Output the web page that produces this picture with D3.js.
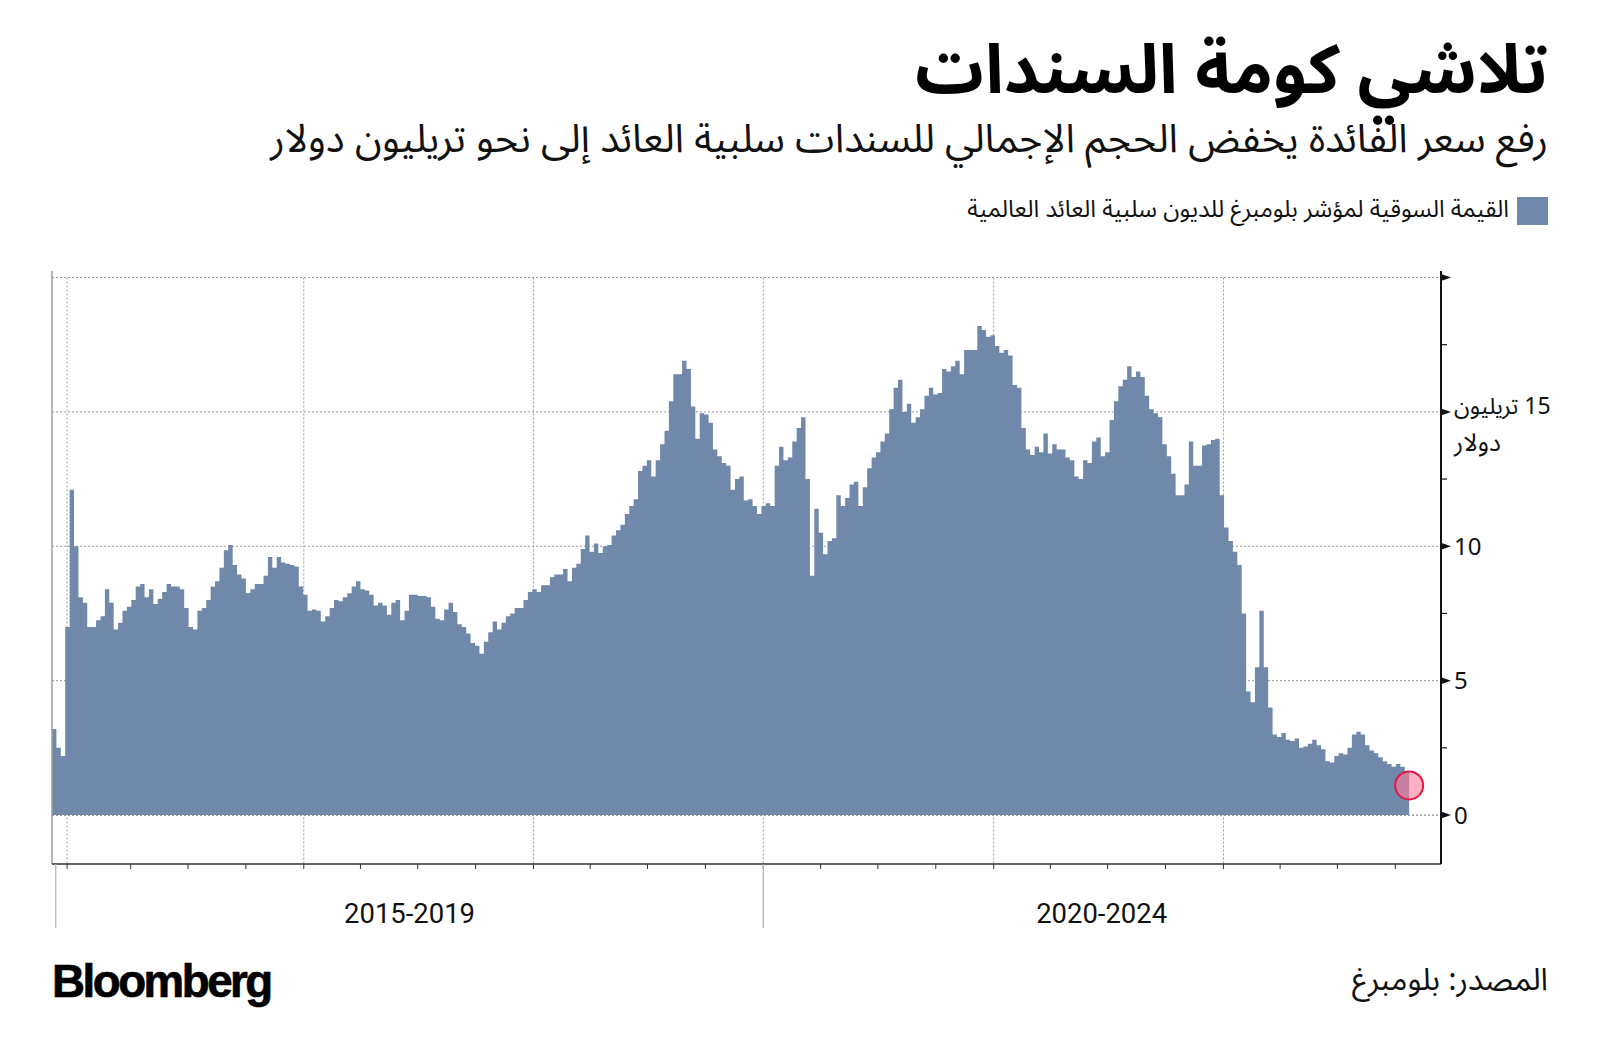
<!DOCTYPE html>
<html><head><meta charset="utf-8">
<script src="https://cdn.jsdelivr.net/npm/d3@7"></script>
<style>body{margin:0;background:#fff} svg{display:block}</style>
</head><body>
<svg id="c" width="1600" height="1063"></svg>
<script>
const titleText = "تلاشي كومة السندات";
const subtitleText = "رفع سعر الفائدة يخفض الحجم الإجمالي للسندات سلبية العائد إلى نحو تريليون دولار";
const legendText = "القيمة السوقية لمؤشر بلومبرغ للديون سلبية العائد العالمية";
const sourceText = "المصدر: بلومبرغ";
const logoText = "Bloomberg";

// weekly market value, trillion USD
const startDate = "2016-11-27";
const stepDays = 7;
const values = [
 3.2, 2.5, 2.2, 7.0, 12.1, 10.0, 8.1, 7.9, 7.0, 7.0,
 7.25, 7.4, 8.4, 7.9, 6.9, 7.15, 7.6, 7.75, 8.0, 8.5,
 8.6, 8.1, 8.4, 7.85, 8.05, 8.3, 8.6, 8.5, 8.5, 8.4,
 7.7, 7.0, 6.9, 7.6, 7.7, 8.0, 8.5, 8.7, 9.2, 9.85,
 10.05, 9.3, 8.95, 8.8, 8.25, 8.4, 8.6, 8.6, 8.9, 9.6,
 9.2, 9.6, 9.4, 9.35, 9.3, 9.25, 8.5, 8.2, 7.6, 7.65,
 7.6, 7.2, 7.4, 7.7, 8.0, 7.95, 8.1, 8.25, 8.5, 8.7,
 8.4, 8.35, 8.2, 7.8, 7.9, 7.8, 7.45, 7.9, 8.0, 7.25,
 7.6, 8.2, 8.2, 8.15, 8.15, 8.1, 7.75, 7.3, 7.25, 7.65,
 7.9, 7.55, 7.1, 7.0, 6.75, 6.4, 6.3, 6.0, 6.45, 6.8,
 7.2, 6.9, 7.15, 7.4, 7.5, 7.7, 7.7, 8.0, 8.3, 8.4,
 8.3, 8.55, 8.55, 8.85, 8.95, 8.95, 9.15, 8.7, 9.2, 9.35,
 9.9, 10.4, 9.8, 10.1, 9.75, 10.0, 10.05, 10.4, 10.6, 10.8,
 11.2, 11.5, 11.75, 12.8, 13.0, 13.2, 12.6, 13.2, 13.8, 14.3,
 15.4, 16.4, 16.4, 16.9, 16.6, 15.2, 14.0, 14.95, 14.9, 14.6,
 13.6, 13.35, 13.1, 13.0, 12.1, 12.5, 12.6, 11.7, 11.75, 11.5,
 11.2, 11.5, 11.6, 11.5, 13.0, 13.7, 13.2, 13.3, 13.9, 14.4,
 14.8, 12.5, 8.9, 11.4, 10.5, 9.7, 10.2, 10.3, 11.9, 11.5,
 11.8, 12.3, 12.4, 11.5, 12.2, 12.9, 13.3, 13.5, 13.9, 14.2,
 15.1, 15.9, 16.2, 15.0, 15.3, 14.6, 14.8, 15.1, 15.6, 15.9,
 15.65, 15.7, 16.6, 16.5, 16.7, 16.9, 16.4, 17.3, 17.3, 17.3,
 18.2, 18.05, 17.8, 17.85, 17.45, 17.2, 17.3, 17.1, 16.0, 15.9,
 14.4, 13.6, 13.4, 13.7, 13.5, 14.2, 13.45, 13.8, 13.6, 13.6,
 13.3, 13.2, 12.6, 12.5, 13.2, 13.1, 13.9, 14.05, 13.35, 13.5,
 14.7, 15.4, 15.95, 16.2, 16.7, 16.3, 16.5, 16.3, 15.6, 15.1,
 14.95, 14.8, 13.8, 13.35, 12.7, 11.9, 11.9, 12.3, 13.9, 13.0,
 13.0, 13.75, 13.8, 13.95, 14.0, 11.9, 10.7, 10.2, 9.8, 9.3,
 7.5, 4.6, 4.2, 5.5, 7.6, 5.5, 4.0, 3.0, 2.9, 3.05,
 2.8, 2.75, 2.85, 2.5, 2.55, 2.65, 2.8, 2.6, 2.45, 2.0,
 1.95, 2.2, 2.3, 2.25, 2.5, 3.0, 3.1, 3.0, 2.6, 2.4,
 2.3, 2.15, 2.0, 1.9, 1.8, 1.9, 1.8, 1.6, 1.1
];

const yMajorTicks = [0, 5, 10, 15, 20];
const yMinorTicks = [2.5, 7.5, 12.5, 17.5];
const yTickLabels = ["0", "5", "10", "15 تريليون", ""];
const yUnitLine = "دولار";
const yDomain = [0, 20];
const xDomain = ["2016-11-27", "2022-12-11"];
const gridDates = ["2016-12-21", "2018-01-01", "2019-01-01", "2020-01-01", "2021-01-01", "2022-01-01"];
const periodBounds = ["2016-12-03", "2020-01-01", "2022-12-11"];
const periodLabels = ["2015-2019", "2020-2024"];

const P = d3.utcParse("%Y-%m-%d");
const AR = "'Noto Sans Arabic','DejaVu Sans',sans-serif";
const svg = d3.select("#c");

const L = 52, R = 1441, TOP = 271, AXB = 864;
const x = d3.scaleUtc().domain(xDomain.map(P)).range([L, 1440]);
const y = d3.scaleLinear().domain(yDomain).range([815, 277.5]);

const start = P(startDate);
const data = values.map((v, i) => ({date: d3.utcDay.offset(start, i * stepDays), v}));

function fit(sel, w) {
  const n = sel.node();
  const cur = n.getComputedTextLength();
  const fs = parseFloat(sel.attr("font-size"));
  if (cur > 0) sel.attr("font-size", (fs * w / cur).toFixed(2));
  return sel;
}

// titles (pure Arabic runs, right-aligned)
fit(svg.append("text").attr("x", 1548).attr("y", 93).attr("text-anchor", "end")
  .attr("font-family", AR).attr("font-weight", "bold").attr("font-size", 60).attr("fill", "#000")
  .text(titleText), 633);
fit(svg.append("text").attr("x", 1548).attr("y", 152).attr("text-anchor", "end")
  .attr("font-family", AR).attr("font-size", 34).attr("fill", "#111")
  .text(subtitleText), 1278);

// legend
svg.append("rect").attr("x", 1517).attr("y", 197).attr("width", 31).attr("height", 28).attr("fill", "#7088aa");
fit(svg.append("text").attr("x", 1509).attr("y", 217).attr("text-anchor", "end")
  .attr("font-family", AR).attr("font-size", 21).attr("fill", "#111")
  .text(legendText), 542);

// grid
const g = svg.append("g");
g.selectAll("line.h").data(yMajorTicks).join("line")
  .attr("x1", L).attr("x2", R).attr("y1", d => y(d)).attr("y2", d => y(d))
  .attr("stroke", "#9a9a9a").attr("stroke-width", 1).attr("stroke-dasharray", "2,2");
g.selectAll("line.v").data(gridDates.map(P)).join("line")
  .attr("x1", d => x(d)).attr("x2", d => x(d)).attr("y1", y(20)).attr("y2", AXB)
  .attr("stroke", "#9a9a9a").attr("stroke-width", 1).attr("stroke-dasharray", "2,2");

// area
const area = d3.area().x(d => x(d.date)).y0(y(0)).y1(d => y(d.v)).curve(d3.curveStepAfter);
svg.append("path").datum(data).attr("d", area).attr("fill", "#7088aa");

// zero line visible over bottom edge
svg.append("line").attr("x1", L).attr("x2", R).attr("y1", y(0) + 0.5).attr("y2", y(0) + 0.5)
  .attr("stroke", "#9a9a9a").attr("stroke-width", 1).attr("stroke-dasharray", "2,2");

// left border
svg.append("line").attr("x1", L).attr("x2", L).attr("y1", TOP).attr("y2", AXB)
  .attr("stroke", "#9c9c9c").attr("stroke-width", 1.5);

// bottom axis
svg.append("line").attr("x1", L).attr("x2", R).attr("y1", AXB).attr("y2", AXB)
  .attr("stroke", "#333").attr("stroke-width", 1.5);
const qTicks = [P(gridDates[0])].concat(d3.utcMonth.every(3).range(P("2017-02-01"), P("2022-12-01")));
svg.selectAll("line.qt").data(qTicks).join("line")
  .attr("x1", d => x(d)).attr("x2", d => x(d)).attr("y1", AXB).attr("y2", AXB + 5)
  .attr("stroke", "#333").attr("stroke-width", 1);

// period separators + labels
svg.selectAll("line.sep").data(periodBounds.slice(0, 2).map(P)).join("line")
  .attr("x1", d => x(d)).attr("x2", d => x(d)).attr("y1", AXB).attr("y2", 928)
  .attr("stroke", "#b0b0b0").attr("stroke-width", 1.2);
periodLabels.forEach((lab, i) => {
  const cx = (x(P(periodBounds[i])) + x(P(periodBounds[i + 1]))) / 2;
  fit(svg.append("text").attr("x", cx).attr("y", 923).attr("text-anchor", "middle")
    .attr("font-family", "Roboto, 'Open Sans', sans-serif").attr("font-size", 26).attr("fill", "#111")
    .text(lab), 131);
});

// right axis
svg.append("line").attr("x1", R).attr("x2", R).attr("y1", TOP).attr("y2", AXB)
  .attr("stroke", "#111").attr("stroke-width", 2);
svg.selectAll("path.tri").data(yMajorTicks).join("path")
  .attr("d", d => `M${R},${y(d) - 3.5}L${R + 10},${y(d)}L${R},${y(d) + 3.5}Z`)
  .attr("fill", "#111");
svg.selectAll("line.mt").data(yMinorTicks).join("line")
  .attr("x1", R).attr("x2", R + 6).attr("y1", d => y(d)).attr("y2", d => y(d))
  .attr("stroke", "#111").attr("stroke-width", 1.2);
yMajorTicks.forEach((t, i) => {
  const lab = yTickLabels[i];
  if (!lab) return;
  if (lab.length > 3) {
    // right-to-left embedding so the number sits on the right, as in the original
    svg.append("text").attr("x", 1454).attr("y", y(t) + 2).attr("text-anchor", "start")
      .attr("font-family", "'Noto Sans', " + AR).attr("font-size", 23).attr("fill", "#111")
      .text("\u202B" + lab + "\u202C");
    svg.append("text").attr("x", 1454).attr("y", y(t) + 39).attr("text-anchor", "start")
      .attr("font-family", AR).attr("font-size", 25).attr("fill", "#111").text(yUnitLine);
  } else {
    svg.append("text").attr("x", 1454).attr("y", y(t) + 8.5).attr("text-anchor", "start")
      .attr("font-family", "'Noto Sans', sans-serif").attr("font-size", 24).attr("fill", "#111").text(lab);
  }
});

// last point marker
const last = data[data.length - 1];
svg.append("circle").attr("cx", x(last.date)).attr("cy", y(last.v)).attr("r", 14)
  .attr("fill", "#ff7d97").attr("fill-opacity", 0.6).attr("stroke", "#e3174b").attr("stroke-width", 2);

// footer
fit(svg.append("text").attr("x", 52).attr("y", 997).attr("font-family", "'Liberation Sans', Arial, sans-serif")
  .attr("font-weight", "bold").attr("font-size", 44).attr("letter-spacing", -2.5)
  .attr("stroke", "#000").attr("stroke-width", 0.7).attr("fill", "#000")
  .text(logoText), 218);
fit(svg.append("text").attr("x", 1548).attr("y", 990).attr("text-anchor", "end")
  .attr("font-family", AR).attr("font-size", 26).attr("fill", "#111")
  .text(sourceText), 196);
</script>
</body></html>
